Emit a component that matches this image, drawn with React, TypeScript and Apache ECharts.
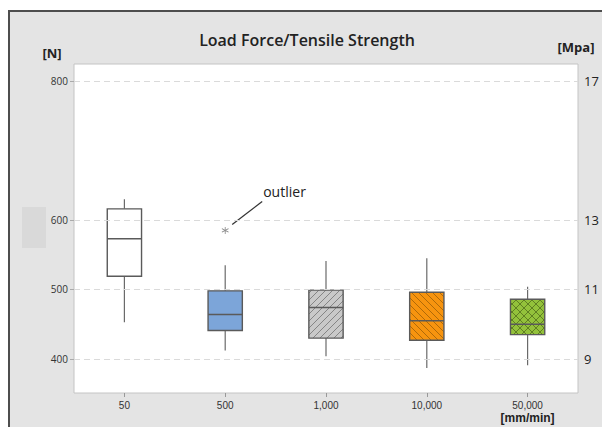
import React, { useEffect, useRef } from 'react';
import * as echarts from 'echarts';

const categories = ['50', '500', '1,000', '10,000', '50,000'];
const whiskerLow = [453, 412, 404, 387, 391];
const q1 = [519, 441, 430, 427, 435];
const median = [573, 464, 474, 455, 450];
const q3 = [616, 498, 499, 496, 486];
const whiskerHigh = [630, 535, 541, 545, 504];
const outliers: [number, number][] = [[1, 585]];
const leftTicks = [400, 500, 600, 800];
const rightTicks = [9, 11, 13, 17];
const xUnit = '[mm/min]';

const FONT = '"Open Sans", "Noto Sans", sans-serif';
const XFONT = '"Liberation Sans", Arial, sans-serif';

function makePattern(base: string, line: string, size: number, dirs: string[]) {
  const c = document.createElement('canvas');
  c.width = size;
  c.height = size;
  const ctx = c.getContext('2d')!;
  ctx.fillStyle = base;
  ctx.fillRect(0, 0, size, size);
  ctx.strokeStyle = line;
  ctx.lineWidth = 1;
  for (const d of dirs) {
    for (const k of [-size, 0, size]) {
      ctx.beginPath();
      if (d === '/') {
        ctx.moveTo(k - 1, size + 1);
        ctx.lineTo(k + size + 1, -1);
      } else {
        ctx.moveTo(k - 1, -1);
        ctx.lineTo(k + size + 1, size + 1);
      }
      ctx.stroke();
    }
  }
  return { type: 'pattern', image: c, repeat: 'repeat', imageWidth: size, imageHeight: size };
}

const STAR =
  'path://M-0.5,-5L0.5,-5L0.5,5L-0.5,5Z M4.08,2.93L4.58,2.07L-4.08,-2.93L-4.58,-2.07Z M4.58,-2.07L4.08,-2.93L-4.58,2.07L-4.08,2.93Z';

export default function App() {
  const ref = useRef<HTMLDivElement>(null);
  useEffect(() => {
    if (!ref.current) return;
    const chart = echarts.init(ref.current, null, { renderer: 'svg' });
    const boxFills: any[] = [
      '#ffffff',
      '#7ca5d9',
      makePattern('#c9c9c9', '#858585', 7, ['/']),
      makePattern('#f7940f', '#b06a08', 7, ['\\']),
      makePattern('#93c13b', '#5f7f22', 8, ['/', '\\']),
    ];
    const boxData = categories.map((_, i) => [i, whiskerLow[i], q1[i], median[i], q3[i], whiskerHigh[i]]);
    const lastCat = categories[categories.length - 1];
    chart.setOption({
      animation: false,
      grid: {
        left: 74,
        right: 24,
        top: 64,
        bottom: 34,
        show: true,
        backgroundColor: '#ffffff',
        borderColor: '#c4c4c4',
        borderWidth: 1,
      },
      xAxis: {
        type: 'category',
        data: categories,
        axisLine: { show: false },
        axisTick: { show: true, alignWithLabel: true, length: 4, lineStyle: { color: '#999' } },
        axisLabel: {
          fontSize: 10,
          lineHeight: 11,
          color: '#333',
          margin: 7,
          fontFamily: XFONT,
          formatter: (v: string) => (v === lastCat ? `{a|${v}}\n{u|${xUnit}}` : v),
          rich: {
            a: { fontSize: 10, lineHeight: 11, color: '#333', fontFamily: XFONT },
            u: { fontSize: 12, lineHeight: 13, fontWeight: 'bold', color: '#222', fontFamily: XFONT },
          },
        },
        splitLine: { show: false },
      },
      yAxis: [
        {
          type: 'value',
          min: 351,
          max: 824.5,
          axisLine: { show: false },
          axisTick: { show: true, length: 4, customValues: leftTicks, lineStyle: { color: '#aaa' } },
          axisLabel: { customValues: leftTicks, fontSize: 10, color: '#333', margin: 6, fontFamily: FONT },
          splitLine: { show: false },
        },
        {
          type: 'value',
          position: 'right',
          min: 8.02,
          max: 17.49,
          axisLine: { show: false },
          axisTick: { show: false, customValues: rightTicks },
          axisLabel: { customValues: rightTicks, fontSize: 13, color: '#222', margin: 6, fontFamily: FONT },
          splitLine: { show: false },
        },
      ],
      series: [
        {
          type: 'scatter',
          z: 1,
          data: outliers,
          symbol: STAR,
          symbolSize: 7,
          itemStyle: { color: '#666' },
          markLine: {
            silent: true,
            symbol: ['none', 'none'],
            label: { show: false },
            lineStyle: { color: '#dadada', type: [6, 4], width: 1 },
            data: leftTicks.map((v) => ({ yAxis: v })),
          },
        },
        {
          type: 'custom',
          z: 3,
          data: boxData,
          encode: { x: 0, y: [1, 2, 3, 4, 5] },
          renderItem: (params: any, api: any) => {
            const i = api.value(0);
            const lo = api.coord([i, api.value(1)]);
            const b1 = api.coord([i, api.value(2)]);
            const m = api.coord([i, api.value(3)]);
            const b3 = api.coord([i, api.value(4)]);
            const hi = api.coord([i, api.value(5)]);
            const w = api.size([1, 0])[0] * 0.34;
            const x = lo[0];
            const wst = { stroke: '#6a6a6a', lineWidth: 1.2 };
            const bst = { stroke: '#5a5a5a', lineWidth: 1.4 };
            return {
              type: 'group',
              children: [
                { type: 'line', shape: { x1: x, y1: hi[1], x2: x, y2: b3[1] }, style: wst },
                { type: 'line', shape: { x1: x, y1: b1[1], x2: x, y2: lo[1] }, style: wst },
                {
                  type: 'rect',
                  shape: { x: x - w / 2, y: b3[1], width: w, height: b1[1] - b3[1] },
                  style: { fill: boxFills[params.dataIndex], ...bst },
                },
                { type: 'line', shape: { x1: x - w / 2, y1: m[1], x2: x + w / 2, y2: m[1] }, style: bst },
              ],
            };
          },
        },
      ],
    });
    const p = chart.convertToPixel({ seriesIndex: 0 }, outliers[0]) as number[];
    chart.setOption({
      graphic: [
        { type: 'rect', shape: { x: 22, y: 207, width: 24, height: 41 }, style: { fill: '#d9d9d9' } },
        {
          type: 'text',
          x: 307,
          y: 40,
          style: {
            text: 'Load Force/Tensile Strength',
            fontSize: 16,
            fontWeight: 600,
            fontFamily: FONT,
            fill: '#222',
            align: 'center',
            verticalAlign: 'middle',
          },
        },
        {
          type: 'text',
          x: 52,
          y: 53,
          style: { text: '[N]', fontSize: 13, fontWeight: 'bold', fontFamily: FONT, fill: '#222', align: 'center', verticalAlign: 'middle' },
        },
        {
          type: 'text',
          x: 576,
          y: 47,
          style: { text: '[Mpa]', fontSize: 13, fontWeight: 'bold', fontFamily: FONT, fill: '#222', align: 'center', verticalAlign: 'middle' },
        },
        {
          type: 'line',
          shape: { x1: p[0] + 7, y1: p[1] - 6, x2: p[0] + 37, y2: p[1] - 29 },
          style: { stroke: '#333', lineWidth: 1.2 },
        },
        {
          type: 'text',
          x: p[0] + 38,
          y: p[1] - 39,
          style: { text: 'outlier', fontSize: 14, fontFamily: FONT, fill: '#222', align: 'left', verticalAlign: 'middle' },
        },
      ],
    });
    return () => chart.dispose();
  }, []);
  return (
    <div style={{ position: 'absolute', left: 0, top: 0, width: 602, height: 427, overflow: 'hidden', background: '#fff' }}>
      <div
        style={{
          position: 'absolute',
          left: 8,
          top: 10,
          width: 640,
          height: 460,
          background: '#e4e4e4',
          borderLeft: '2px solid #4e4e4e',
          borderTop: '2px solid #4e4e4e',
        }}
      />
      <div ref={ref} style={{ position: 'absolute', left: 0, top: 0, width: 602, height: 427 }} />
    </div>
  );
}
